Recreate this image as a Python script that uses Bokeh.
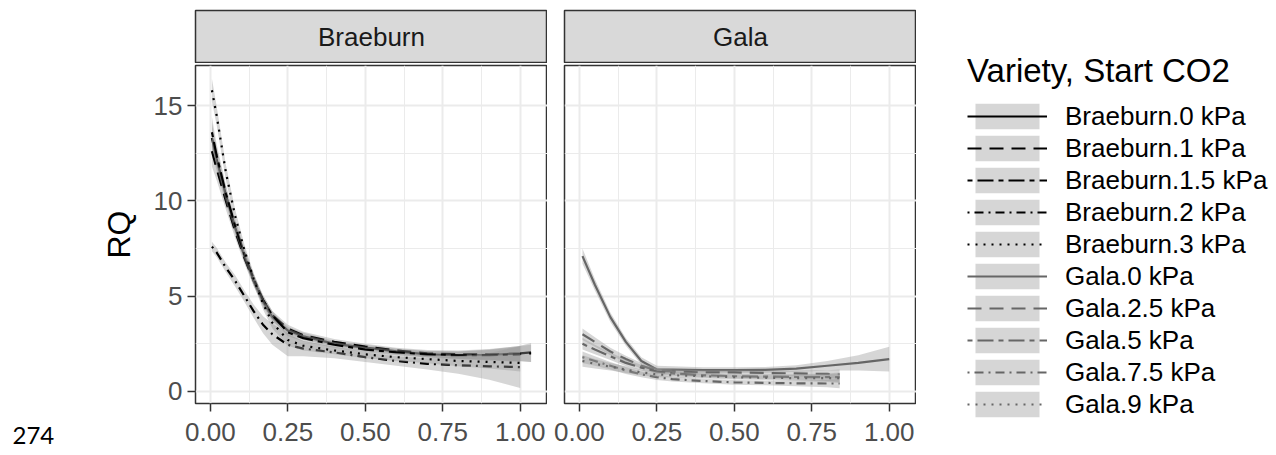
from bokeh.plotting import figure
from bokeh.layouts import row, column
from bokeh.models import Range1d, FixedTicker, Legend, LegendItem, Label
from bokeh.core.properties import value
from bokeh.embed import file_html
from bokeh.resources import INLINE

# ---------------- data ----------------
panels = ["Braeburn", "Gala"]
x_ticks = [0.0, 0.25, 0.5, 0.75, 1.0]
x_tick_labels = ["0.00", "0.25", "0.50", "0.75", "1.00"]
y_ticks = [0, 5, 10, 15]
y_tick_labels = ["0", "5", "10", "15"]
page_number = "274"

br_x = [0.005, 0.02, 0.05, 0.08, 0.11, 0.14, 0.17, 0.20, 0.25, 0.30,
        0.40, 0.50, 0.60, 0.70, 0.80, 0.90, 1.00, 1.035]
br_0 = [13.3, 12.2, 10.3, 8.6, 7.1, 5.8, 4.7, 3.9, 3.2, 2.9,
        2.5, 2.3, 2.1, 1.95, 1.9, 1.92, 2.0, 2.05]
br_0_se = [0.8, 0.6, 0.45, 0.35, 0.3, 0.28, 0.25, 0.22, 0.2, 0.18,
           0.15, 0.15, 0.15, 0.17, 0.2, 0.28, 0.4, 0.5]
br_1 = [12.6, 11.7, 10.0, 8.4, 7.0, 5.8, 4.8, 4.0, 3.3, 2.95,
        2.6, 2.35, 2.15, 2.0, 1.95, 1.95, 1.98, 2.0]
br_1_se = [0.8, 0.6, 0.45, 0.35, 0.3, 0.28, 0.25, 0.22, 0.2, 0.18,
           0.15, 0.15, 0.15, 0.17, 0.2, 0.28, 0.4, 0.45]
br_15 = [13.6, 12.4, 10.4, 8.7, 7.2, 5.9, 4.8, 4.0, 3.1, 2.8,
         2.45, 2.2, 2.05, 1.95, 1.9, 1.9, 1.95]
br_15_se = [0.8, 0.6, 0.45, 0.35, 0.3, 0.28, 0.25, 0.22, 0.2, 0.18,
            0.15, 0.15, 0.15, 0.17, 0.2, 0.28, 0.4]
br_2 = [7.6, 7.3, 6.5, 5.8, 5.0, 4.2, 3.5, 3.0, 2.45, 2.25,
        2.05, 1.8, 1.6, 1.45, 1.38, 1.32, 1.28]
br_2_se = [0.25, 0.25, 0.25, 0.3, 0.3, 0.35, 0.45, 0.55, 0.6, 0.4,
           0.3, 0.25, 0.25, 0.3, 0.45, 0.7, 1.1]
br_3 = [15.8, 14.5, 11.5, 9.2, 7.4, 5.9, 4.6, 3.6, 2.7, 2.4,
        2.15, 1.95, 1.8, 1.7, 1.6, 1.55, 1.5]
br_3_se = [0.6, 0.5, 0.4, 0.35, 0.3, 0.3, 0.3, 0.3, 0.3, 0.25,
           0.2, 0.2, 0.2, 0.22, 0.28, 0.35, 0.45]

ga_x = [0.01, 0.05, 0.10, 0.15, 0.20, 0.25, 0.30, 0.40, 0.50, 0.60,
        0.70, 0.80, 0.90, 1.00]
ga_x_short = [0.01, 0.05, 0.10, 0.15, 0.20, 0.25, 0.30, 0.40, 0.50, 0.60,
              0.70, 0.80, 0.84]
ga_0 = [7.1, 5.6, 3.9, 2.6, 1.6, 1.15, 1.15, 1.12, 1.12, 1.13, 1.2, 1.35, 1.5, 1.7]
ga_0_se = [0.4, 0.3, 0.25, 0.2, 0.2, 0.2, 0.18, 0.15, 0.15, 0.15, 0.18, 0.25, 0.4, 0.65]
ga_25 = [3.0, 2.6, 2.1, 1.7, 1.35, 1.1, 1.05, 1.0, 1.0, 0.97, 0.95, 0.92, 0.9]
ga_25_se = [0.3, 0.25, 0.2, 0.18, 0.15, 0.15, 0.12, 0.12, 0.12, 0.12, 0.15, 0.2, 0.25]
ga_5 = [2.5, 2.2, 1.85, 1.5, 1.25, 1.05, 0.95, 0.85, 0.8, 0.78, 0.76, 0.75, 0.75]
ga_5_se = [0.3, 0.25, 0.2, 0.18, 0.15, 0.15, 0.12, 0.12, 0.12, 0.12, 0.15, 0.2, 0.25]
ga_75 = [1.8, 1.6, 1.35, 1.1, 0.9, 0.75, 0.65, 0.55, 0.48, 0.45, 0.43, 0.42, 0.42]
ga_75_se = [0.3, 0.25, 0.2, 0.18, 0.15, 0.15, 0.12, 0.12, 0.12, 0.12, 0.15, 0.2, 0.25]
ga_9 = [1.6, 1.45, 1.3, 1.15, 1.0, 0.9, 0.85, 0.8, 0.75, 0.72, 0.7, 0.7, 0.7]
ga_9_se = [0.3, 0.25, 0.2, 0.18, 0.15, 0.15, 0.12, 0.12, 0.12, 0.12, 0.15, 0.2, 0.25]

br_labels = ["Braeburn.0 kPa", "Braeburn.1 kPa", "Braeburn.1.5 kPa",
             "Braeburn.2 kPa", "Braeburn.3 kPa"]
ga_labels = ["Gala.0 kPa", "Gala.2.5 kPa", "Gala.5 kPa", "Gala.7.5 kPa", "Gala.9 kPa"]

# ---------------- styles ----------------
FONT = "Liberation Sans"
dashes = ["solid", "14 8", "5 5 16 5", "2 5 9 5", "2 6"]
BR_COLOR = "#000000"
GA_COLOR = "#666666"
RIBBON = "#999999"

br_series = [(br_x, br_0, br_0_se), (br_x, br_1, br_1_se), (br_x, br_15, br_15_se),
             (br_x, br_2, br_2_se), (br_x, br_3, br_3_se)]
ga_series = [(ga_x, ga_0, ga_0_se), (ga_x_short, ga_25, ga_25_se),
             (ga_x_short, ga_5, ga_5_se), (ga_x_short, ga_75, ga_75_se),
             (ga_x_short, ga_9, ga_9_se)]

X_RANGE = (-0.048, 1.088)
Y_RANGE = (-0.63, 17.1)
PAGE_W = 60            # left strip holding the page number
FRAME_W = 352
FRAME_H = 338
LEFT = 195 - PAGE_W
GAP = 17
STRIP_TOP = 10
STRIP_H = 53
PANEL_TOP = 2
BOTTOM = 49
TOTAL_H = STRIP_TOP + STRIP_H + PANEL_TOP + FRAME_H + BOTTOM


def draw_series(p, series, color):
    rends = []
    for (xs, ys, se), dash in zip(series, dashes):
        xx = xs[:len(ys)]
        lo = [y - s for y, s in zip(ys, se)]
        hi = [y + s for y, s in zip(ys, se)]
        ra = p.varea(x=xx, y1=lo, y2=hi, fill_color=RIBBON, fill_alpha=0.4)
        ln = p.line(x=xx, y=ys, line_color=color, line_width=2.2, line_dash=dash)
        rends.append((ra, ln))
    return rends


def make_panel(series, color, left, with_yaxis):
    p = figure(width=left + FRAME_W, height=PANEL_TOP + FRAME_H + BOTTOM,
               x_range=Range1d(*X_RANGE), y_range=Range1d(*Y_RANGE),
               output_backend="svg", toolbar_location=None,
               min_border_left=left, min_border_right=0,
               min_border_top=PANEL_TOP, min_border_bottom=BOTTOM)
    p.background_fill_color = "white"
    p.border_fill_color = "white"
    p.outline_line_color = "#333333"
    p.outline_line_width = 1.5
    xt = FixedTicker(ticks=x_ticks, minor_ticks=[0.125, 0.375, 0.625, 0.875])
    yt = FixedTicker(ticks=y_ticks, minor_ticks=[2.5, 7.5, 12.5])
    p.xaxis.ticker = xt
    p.yaxis.ticker = yt
    p.xgrid.ticker = xt
    p.ygrid.ticker = yt
    for g in (p.xgrid, p.ygrid):
        g.grid_line_color = "#EBEBEB"
        g.grid_line_width = 2
        g.minor_grid_line_color = "#EBEBEB"
        g.minor_grid_line_width = 1
    for ax in (p.xaxis, p.yaxis):
        ax.axis_line_color = None
        ax.major_tick_line_color = "#333333"
        ax.major_tick_line_width = 1.5
        ax.major_tick_out = 8
        ax.major_tick_in = 0
        ax.minor_tick_line_color = None
        ax.major_label_text_font = FONT
        ax.major_label_text_font_size = "26px"
        ax.major_label_text_color = "#4D4D4D"
    p.xaxis.major_label_standoff = 11
    p.yaxis.major_label_standoff = 5
    p.xaxis.major_label_overrides = {t: l for t, l in zip(x_ticks, x_tick_labels)}
    p.yaxis.major_label_overrides = {t: l for t, l in zip(y_ticks, y_tick_labels)}
    if with_yaxis:
        p.yaxis.axis_label = "RQ"
        p.yaxis.axis_label_text_font = FONT
        p.yaxis.axis_label_text_font_size = "32px"
        p.yaxis.axis_label_text_font_style = "normal"
        p.yaxis.axis_label_text_color = "black"
        p.yaxis.axis_label_standoff = 14
    else:
        p.yaxis.visible = False
    draw_series(p, series, color)
    return p


def make_strip(name, left):
    s = figure(width=left + FRAME_W, height=STRIP_TOP + STRIP_H,
               x_range=Range1d(0, 1), y_range=Range1d(0, 1),
               output_backend="svg", toolbar_location=None,
               x_axis_type=None, y_axis_type=None,
               min_border_left=left, min_border_right=0,
               min_border_top=STRIP_TOP, min_border_bottom=0)
    s.grid.visible = False
    s.background_fill_color = "#D9D9D9"
    s.outline_line_color = "#333333"
    s.outline_line_width = 1.5
    s.text(x=[0.5], y=[0.5], text=[name], text_align="center",
           text_baseline="middle", text_font=value(FONT),
           text_font_size="26px", text_color="#1A1A1A")
    return s


p1 = make_panel(br_series, BR_COLOR, LEFT, True)
p2 = make_panel(ga_series, GA_COLOR, GAP, False)
s1 = make_strip(panels[0], LEFT)
s2 = make_strip(panels[1], GAP)

# ---------------- page number column ----------------
pf = figure(width=PAGE_W, height=TOTAL_H, x_range=Range1d(0, 1), y_range=Range1d(0, 1),
            output_backend="svg", toolbar_location=None,
            x_axis_type=None, y_axis_type=None,
            min_border_left=0, min_border_right=0, min_border_top=0, min_border_bottom=0)
pf.grid.visible = False
pf.outline_line_color = None
pf.add_layout(Label(x=12, y=17, x_units="screen", y_units="screen",
                    text=page_number, text_font="Lato", text_font_size="24px",
                    text_color="black", text_baseline="alphabetic"))

# ---------------- legend figure ----------------
LEG_X0 = PAGE_W + LEFT + FRAME_W + GAP + FRAME_W
lf = figure(width=1276 - LEG_X0, height=TOTAL_H, x_range=Range1d(50, 51),
            y_range=Range1d(50, 51),
            output_backend="svg", toolbar_location=None,
            x_axis_type=None, y_axis_type=None,
            min_border_left=0, min_border_right=0, min_border_top=0, min_border_bottom=0)
lf.grid.visible = False
lf.outline_line_color = None
items = []
for label, r in zip(br_labels, draw_series(lf, br_series, BR_COLOR)):
    items.append(LegendItem(label=label, renderers=list(r)))
for label, r in zip(ga_labels, draw_series(lf, ga_series, GA_COLOR)):
    items.append(LegendItem(label=label, renderers=list(r)))

legend = Legend(items=items, location=(967 - LEG_X0, TOTAL_H - 420),
                title="Variety, Start CO2", title_text_font=FONT,
                title_text_font_size="33px", title_text_font_style="normal",
                title_text_color="black", title_standoff=10,
                label_text_font=FONT, label_text_font_size="26px",
                label_text_color="black",
                glyph_width=80, glyph_height=32, label_height=32,
                label_standoff=18, spacing=0, padding=0, margin=0,
                border_line_color=None, background_fill_alpha=0)
lf.add_layout(legend, "center")

layout = row(pf, column(s1, p1), column(s2, p2), lf)

open("out.html", "w").write(file_html(layout, INLINE))
